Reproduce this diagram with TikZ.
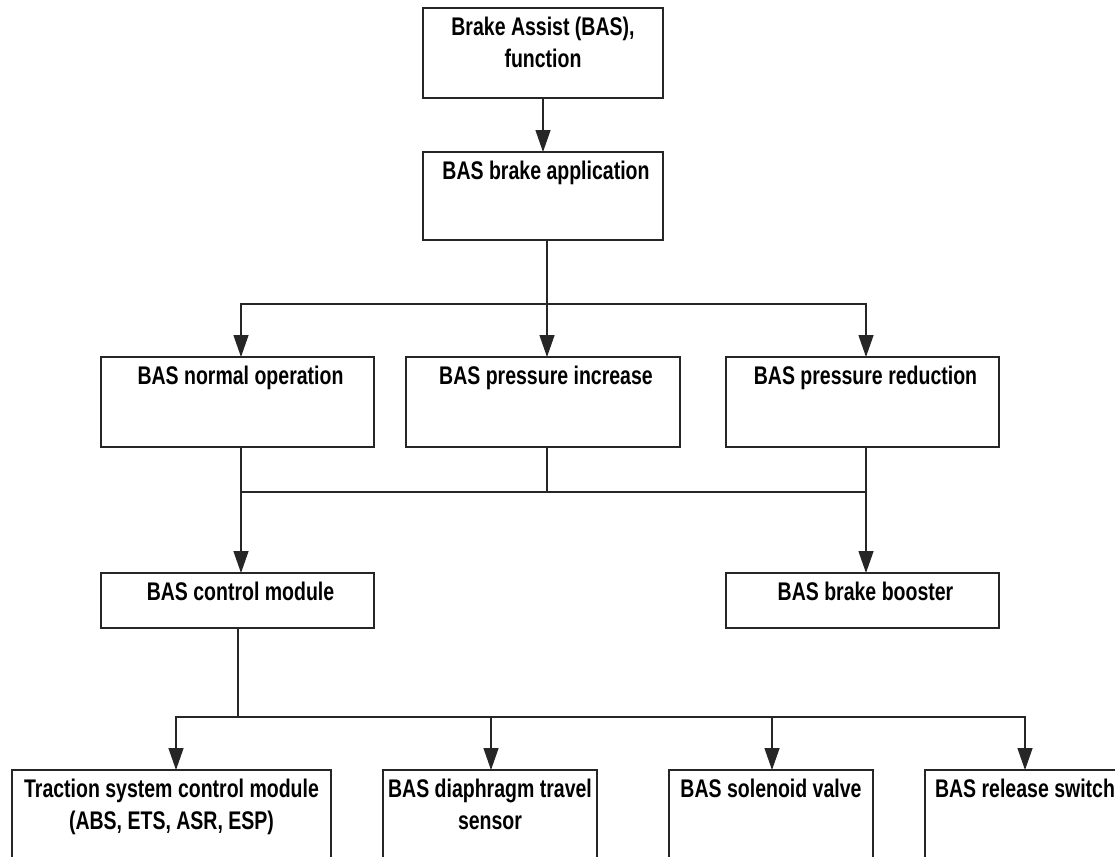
\documentclass[tikz,border=0pt]{standalone}
\usepackage{fontspec}
\setmainfont{Liberation Sans}[FakeStretch=0.765]
\usetikzlibrary{arrows.meta,calc}
\definecolor{linec}{gray}{0.15}
\newcommand\bxt[4]{\parbox[c][#2pt][t]{#1pt}{\centering\leftskip=#3pt plus 1fil\relax\fontsize{25.5}{32}\selectfont\bfseries\rule{0pt}{27.5pt}#4\par}}
\tikzset{
  box/.style={draw=linec, line width=1.3pt, inner sep=0pt, outer sep=0pt, anchor=north west},
  ln/.style={draw=linec, line width=1.3pt},
  arr/.style={draw=linec, line width=1.3pt, -{Triangle[length=22pt,width=15pt]}}
}
\begin{document}
\begin{tikzpicture}[x=1pt,y=-1pt]
\fill[white] (0,0) rectangle (1115,856);
\useasboundingbox (0,0) rectangle (1115,856);
\node[box] (func) at (423,8) {\bxt{240}{90}{0}{Brake Assist (BAS),\\function}};
\node[box] (app) at (423,152) {\bxt{240}{88}{6}{BAS brake application}};
\node[box] (norm) at (101,357) {\bxt{273}{90}{6}{BAS normal operation}};
\node[box] (inc) at (406,357) {\bxt{274}{90}{6}{BAS pressure increase}};
\node[box] (red) at (726,357) {\bxt{273}{90}{6}{BAS pressure reduction}};
\node[box] (cm) at (101,573) {\bxt{273}{55}{6}{BAS control module}};
\node[box] (boost) at (726,573) {\bxt{273}{55}{6}{BAS brake booster}};
\node[box] (trac) at (12,770) {\bxt{319}{120}{0}{Traction system control module\\(ABS, ETS, ASR, ESP)}};
\node[box] (diaph) at (383,770) {\bxt{214}{120}{0}{BAS diaphragm travel\\sensor}};
\node[box] (sol) at (669,770) {\bxt{204}{120}{0}{BAS solenoid valve}};
\node[box] (rel) at (925,770) {\bxt{200}{120}{0}{BAS release switch}};
% level 1
\draw[arr] (func.south) -- (app.north);
\coordinate (j1) at (547,304);
\draw[ln] (app.south -| j1) -- (j1);
\draw[arr] (j1) -| ([xshift=3.5pt]norm.north);
\draw[arr] (j1) -| ([xshift=3.5pt]red.north);
\draw[arr] (j1) -- (inc.north -| j1);
% merge
\coordinate (j2) at (547,492);
\draw[ln] ([xshift=3.5pt]norm.south) |- (j2);
\draw[ln] (inc.south -| j2) -- (j2);
\draw[ln] ([xshift=3.5pt]red.south) |- (j2);
\draw[arr] ([xshift=3.5pt]norm.south |- j2) -- ([xshift=3.5pt]cm.north);
\draw[arr] ([xshift=3.5pt]red.south |- j2) -- ([xshift=3.5pt]boost.north);
% bottom
\coordinate (j3) at (238,717);
\draw[ln] (cm.south -| j3) -- (j3);
\draw[arr] (j3) -| ([xshift=4.5pt]trac.north);
\draw[arr] (j3) -| ([xshift=1pt]diaph.north);
\draw[arr] (j3) -| ([xshift=1pt]sol.north);
\draw[arr] (j3) -| (rel.north);
\end{tikzpicture}
\end{document}
